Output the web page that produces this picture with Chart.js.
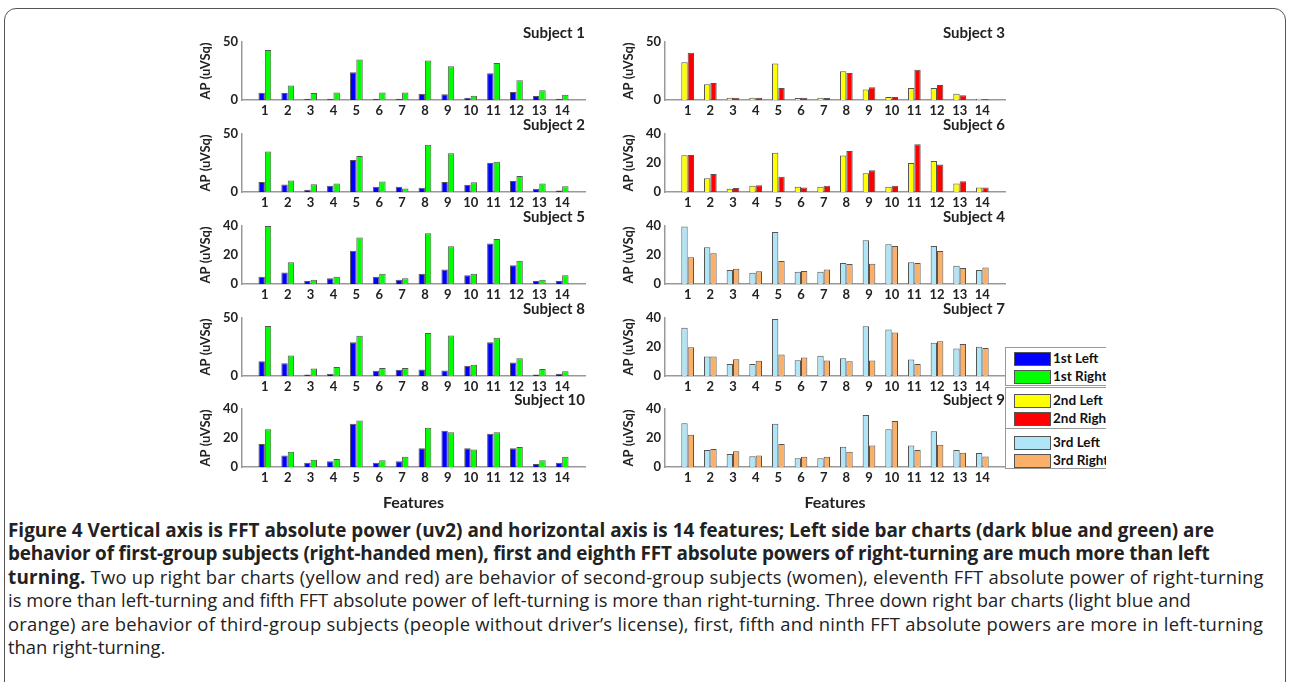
<!DOCTYPE html>
<html>
<head>
<meta charset="utf-8">
<script src="https://cdn.jsdelivr.net/npm/chart.js@4/dist/chart.umd.min.js"></script>
<style>
  body { margin: 0; background: #fff; width: 1292px; height: 682px; overflow: hidden; position: relative; font-family: Lato, sans-serif; }
  .frame { position: absolute; left: 4px; top: 8px; width: 1282px; height: 700px; border: 1.5px solid #555; border-radius: 12px; box-sizing: border-box; }
  .box { position: absolute; }
  .legend { position: absolute; left: 1005px; top: 347px; width: 101px; height: 122px; overflow: hidden; }
  .lg { position: absolute; left: 0; width: 110px; border: 1px solid #999; background: #fff; box-sizing: border-box; }
  .lg div { position: relative; height: 18px; font: bold 13.5px Lato, sans-serif; color: #111; white-space: nowrap; }
  .lg span.sw { position: absolute; left: 8px; top: 2px; width: 35px; height: 12px; border: 1px solid #555; }
  .lg span.tx { position: absolute; left: 47px; top: 0px; }
  .caption { position: absolute; left: 8px; top: 518px; font: 18.4px "Open Sans", sans-serif; color: #222; white-space: nowrap; }
  .caption div { height: 23.4px; line-height: 23.4px; }
  .caption b { font-weight: bold; font-size: 18.9px; }
</style>
</head>
<body>
<div class="frame"></div>

<div class="box" style="left:190px;top:20px;width:400px;height:98px"><canvas id="c1"></canvas></div>
<div class="box" style="left:190px;top:112px;width:400px;height:98px"><canvas id="c2"></canvas></div>
<div class="box" style="left:190px;top:204px;width:400px;height:98px"><canvas id="c5"></canvas></div>
<div class="box" style="left:190px;top:296px;width:400px;height:98px"><canvas id="c8"></canvas></div>
<div class="box" style="left:190px;top:387px;width:400px;height:125px"><canvas id="c10"></canvas></div>

<div class="box" style="left:613px;top:20px;width:397px;height:98px"><canvas id="c3"></canvas></div>
<div class="box" style="left:613px;top:112px;width:397px;height:98px"><canvas id="c6"></canvas></div>
<div class="box" style="left:613px;top:204px;width:397px;height:98px"><canvas id="c4"></canvas></div>
<div class="box" style="left:613px;top:296px;width:397px;height:98px"><canvas id="c7"></canvas></div>
<div class="box" style="left:613px;top:387px;width:397px;height:125px"><canvas id="c9"></canvas></div>

<div class="legend">
  <div class="lg" style="top:0;height:39px;padding-top:2px">
    <div><span class="sw" style="background:#0000ff"></span><span class="tx">1st Left</span></div>
    <div><span class="sw" style="background:#00ff00"></span><span class="tx">1st Right</span></div>
  </div>
  <div class="lg" style="top:40px;height:42px;padding-top:4px">
    <div><span class="sw" style="background:#ffff00"></span><span class="tx">2nd Left</span></div>
    <div><span class="sw" style="background:#ff0000"></span><span class="tx">2nd Right</span></div>
  </div>
  <div class="lg" style="top:81px;height:41px;padding-top:5px">
    <div><span class="sw" style="background:#aee6f7"></span><span class="tx">3rd Left</span></div>
    <div><span class="sw" style="background:#fbb06a"></span><span class="tx">3rd Right</span></div>
  </div>
</div>

<div class="caption">
<div><b>Figure 4 Vertical axis is FFT absolute power (uv2) and horizontal axis is 14 features; Left side bar charts (dark blue and green) are</b></div>
<div style="letter-spacing:-0.17px"><b>behavior of first-group subjects (right-handed men), first and eighth FFT absolute powers of right-turning are much more than left</b></div>
<div style="letter-spacing:0.22px"><b>turning.</b> Two up right bar charts (yellow and red) are behavior of second-group subjects (women), eleventh FFT absolute power of right-turning</div>
<div>is more than left-turning and fifth FFT absolute power of left-turning is more than right-turning. Three down right bar charts (light blue and</div>
<div style="letter-spacing:0.27px">orange) are behavior of third-group subjects (people without driver’s license), first, fifth and ninth FFT absolute powers are more in left-turning</div>
<div>than right-turning.</div>
</div>

<script>
// features on the x axis
const features = [1, 2, 3, 4, 5, 6, 7, 8, 9, 10, 11, 12, 13, 14];

// first group (blue / green)
const sub1_left  = [6.2, 6, 1, 1, 24, 1, 1, 5.3, 5, 2, 23, 7, 3.4, 1];
const sub1_right = [43, 12.4, 6, 6.5, 35, 6.5, 6.5, 34, 29, 3.7, 32, 17, 8.4, 4.5];
const sub2_left  = [8.7, 6.5, 2, 5.3, 27.5, 4.5, 4.5, 3.7, 8.7, 6.2, 25, 9.5, 2.8, 1.4];
const sub2_right = [35, 10, 6.7, 7.3, 31, 9, 3, 40.7, 33.4, 8.4, 26, 13.8, 7.3, 5];
const sub5_left  = [5, 8, 2, 4, 23, 5, 3, 7, 10, 6, 28, 13, 2, 2];
const sub5_right = [40, 15, 3, 5, 32, 7, 4, 35, 26, 7, 31, 16, 3, 6];
const sub8_left  = [12.8, 11, 1.4, 2, 29, 4.5, 5.4, 5.7, 4.8, 8.8, 29, 11.6, 1.4, 2];
const sub8_right = [43, 17.6, 6.5, 7.7, 34.7, 6.8, 6.8, 37, 35, 9.7, 33, 15.3, 6, 4];
const sub10_left  = [15.8, 8, 3, 4, 29.8, 3, 4, 13, 25, 13, 23, 13, 2, 3];
const sub10_right = [26, 10.6, 5, 5.6, 32, 4.7, 7, 27, 24, 12, 24, 13.8, 4.7, 7];

// second group (yellow / red)
const sub3_left  = [32.6, 13.5, 2, 2, 31.5, 1.7, 2, 24.7, 9, 2.5, 10.4, 10.4, 5.3, 1.1];
const sub3_right = [40.7, 14.6, 2, 2, 10.4, 2, 1.7, 23.3, 11, 2.5, 26, 13, 4, 0.8];
const sub6_left  = [25.4, 9.4, 2.2, 4.3, 27, 3.6, 3.6, 25.2, 13, 3.6, 20, 21.3, 5.8, 3.1];
const sub6_right = [25.6, 12.4, 2.7, 4.7, 10.6, 3.1, 4.3, 28.3, 15, 4.3, 33, 19, 7.4, 3.1];

// third group (light blue / orange)
const sub4_left  = [39.7, 25.3, 9.7, 7.7, 35.9, 8.4, 8.4, 14.4, 30.2, 27.5, 15, 26.2, 12.6, 9.7];
const sub4_right = [18.5, 21.2, 10.6, 8.8, 15.8, 9, 10, 13.8, 14, 26.2, 14.4, 22.8, 11, 11.3];
const sub7_left  = [33.2, 13.4, 8.2, 8.2, 39.3, 10.9, 13.9, 12.3, 34.3, 32, 11.4, 23, 18.9, 20.2];
const sub7_right = [19.8, 13.4, 11.6, 10.5, 14.8, 12.7, 10.7, 10.2, 10.7, 30, 8.2, 23.9, 22, 19.3];
const sub9_left  = [30.2, 11.7, 9, 7.4, 29.8, 6.1, 6.1, 14, 35.9, 26, 14.9, 24.6, 11.7, 9.7];
const sub9_right = [22.3, 12.4, 10.8, 7.9, 15.8, 7, 7, 10.6, 14.9, 31.8, 11.7, 15.3, 9.9, 7.2];

const first_colors  = ['#0000ff', '#00ff00'];
const second_colors = ['#ffff00', '#ff0000'];
const third_colors  = ['#aee6f7', '#fbb06a'];

const tick_font = {family: 'Lato', size: 13, weight: 'bold'};

function barChart(id, title, left, right, colors, yMax, yStep, lastRow) {
  const toXY = arr => arr.map((v, i) => ({x: features[i], y: v}));
  return new Chart(document.getElementById(id), {
    type: 'bar',
    data: {
      datasets: [
        {label: 'Left', data: toXY(left), backgroundColor: colors[0], borderColor: '#555', borderWidth: 1,
         barPercentage: 1, categoryPercentage: 0.56},
        {label: 'Right', data: toXY(right), backgroundColor: colors[1], borderColor: '#555', borderWidth: 1,
         barPercentage: 1, categoryPercentage: 0.56}
      ]
    },
    options: {
      responsive: true,
      maintainAspectRatio: false,
      animation: false,
      layout: {padding: {left: 8, right: 5, top: 0, bottom: 0}},
      plugins: {
        legend: {display: false},
        tooltip: {enabled: false},
        title: {
          display: true, text: title, align: 'end', color: '#222',
          font: {family: 'Lato', size: 15, weight: 'bold'},
          padding: {top: 4, bottom: 0}
        }
      },
      scales: {
        x: {
          type: 'linear', min: 0, max: 15, offset: false,
          grid: {display: false, drawTicks: false},
          border: {display: true, color: '#999', width: 1.5},
          ticks: {
            stepSize: 1, autoSkip: false, maxRotation: 0, padding: 3,
            color: '#222', font: tick_font,
            callback: v => features.includes(v) ? String(v) : ''
          },
          title: {display: lastRow, text: 'Features', color: '#222',
                  font: {family: 'Lato', size: 16, weight: 'bold'}, padding: 0},
          afterFit: axis => { axis.height = lastRow ? 45 : 18; }
        },
        y: {
          min: 0, max: yMax,
          grid: {display: false, drawTicks: false},
          border: {display: true, color: '#999', width: 1.5},
          ticks: {stepSize: yStep, padding: 4, color: '#222', font: tick_font},
          title: {display: true, text: 'AP (uVSq)', color: '#222',
                  font: {family: 'Lato', size: 13, weight: 'bold'}, padding: 0},
          afterFit: axis => { axis.width = 44; }
        }
      }
    }
  });
}

barChart('c1', 'Subject 1', sub1_left, sub1_right, first_colors, 50, 50, false);
barChart('c2', 'Subject 2', sub2_left, sub2_right, first_colors, 50, 50, false);
barChart('c5', 'Subject 5', sub5_left, sub5_right, first_colors, 40, 20, false);
barChart('c8', 'Subject 8', sub8_left, sub8_right, first_colors, 50, 50, false);
barChart('c10', 'Subject 10', sub10_left, sub10_right, first_colors, 40, 20, true);

barChart('c3', 'Subject 3', sub3_left, sub3_right, second_colors, 50, 50, false);
barChart('c6', 'Subject 6', sub6_left, sub6_right, second_colors, 40, 20, false);
barChart('c4', 'Subject 4', sub4_left, sub4_right, third_colors, 40, 20, false);
barChart('c7', 'Subject 7', sub7_left, sub7_right, third_colors, 40, 20, false);
barChart('c9', 'Subject 9', sub9_left, sub9_right, third_colors, 40, 20, true);
</script>
</body>
</html>
